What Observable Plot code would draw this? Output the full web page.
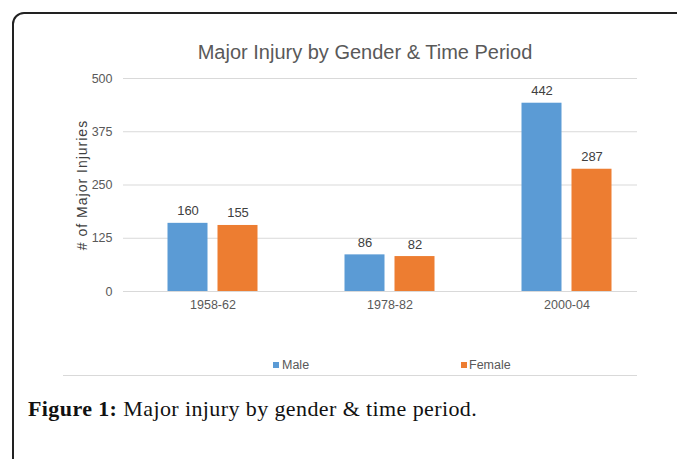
<!DOCTYPE html>
<html>
<head>
<meta charset="utf-8">
<script src="https://cdn.jsdelivr.net/npm/d3@7"></script>
<script src="https://cdn.jsdelivr.net/npm/@observablehq/plot@0.6"></script>
<style>
  html, body { margin: 0; padding: 0; background: #fff; }
  body { width: 677px; height: 459px; overflow: hidden; position: relative; font-family: "Liberation Sans", Arial, sans-serif; }
  #box { position: absolute; left: 12px; top: 12px; width: 720px; height: 520px; border: 2px solid #222; border-top-left-radius: 12px; box-sizing: border-box; }
  #title { position: absolute; left: 0; width: 730px; top: 42px; text-align: center; font-size: 20px; line-height: 20px; color: #595959; white-space: nowrap; }
  #chart { position: absolute; left: 0; top: 60px; }
  #legend { position: absolute; top: 358px; left: 0; font-size: 12.5px; line-height: 14px; color: #595959; }
  .sw { position: absolute; top: 4px; width: 6px; height: 6px; }
  .lt { position: absolute; top: 0; white-space: nowrap; }
  #sep { position: absolute; left: 63px; top: 375px; width: 574px; height: 1px; background: #d9d9d9; }
  #caption { position: absolute; left: 28px; top: 398px; font-family: "Liberation Serif", "Times New Roman", serif; font-size: 22px; line-height: 22px; color: #111; white-space: nowrap; letter-spacing: 0.4px; }
</style>
</head>
<body>
<div id="box"></div>
<div id="title">Major Injury by Gender &amp; Time Period</div>
<div id="chart"></div>
<div id="legend"></div>
<div id="sep"></div>
<div id="caption"><b>Figure 1:</b> Major injury by gender &amp; time period.</div>
<script>
const periods = ["1958-62", "1978-82", "2000-04"];
const genders = ["Male", "Female"];
const maleValues = [160, 86, 442];
const femaleValues = [155, 82, 287];
const yTicks = [0, 125, 250, 375, 500];
const colors = ["#5B9BD5", "#ED7D31"];
const yLabel = "# of Major Injuries";

const maleData = periods.map((p, i) => ({period: p, gender: "Male", value: maleValues[i]}));
const femaleData = periods.map((p, i) => ({period: p, gender: "Female", value: femaleValues[i]}));

const chart = Plot.plot({
  width: 677,
  height: 260,
  marginTop: 18,
  marginBottom: 29,
  marginLeft: 123,
  marginRight: 40,
  style: {fontFamily: "'Liberation Sans', Arial, sans-serif", color: "#595959", background: "transparent"},
  x: {type: "band", domain: periods, range: [123.5, 654.5], padding: 0},
  y: {domain: [0, 500]},
  marks: [
    Plot.ruleY(yTicks, {stroke: "#d9d9d9", strokeWidth: 1}),
    Plot.barY(maleData, {x: "period", y: "value", fill: colors[0], insetLeft: 43.5, insetRight: 93.5}),
    Plot.barY(femaleData, {x: "period", y: "value", fill: colors[1], insetLeft: 93.5, insetRight: 43.5}),
    Plot.text(maleData, {x: "period", y: "value", text: d => String(d.value), dx: -25, dy: -8, lineAnchor: "bottom", fill: "#404040", fontSize: 13}),
    Plot.text(femaleData, {x: "period", y: "value", text: d => String(d.value), dx: 25, dy: -8, lineAnchor: "bottom", fill: "#404040", fontSize: 13}),
    Plot.axisX({tickSize: 0, tickPadding: 9, label: null, fontSize: 12.5, fill: "#595959"}),
    Plot.axisY({ticks: yTicks, tickSize: 0, tickPadding: 11, label: null, fontSize: 12.5, fill: "#595959"}),
    Plot.text([yLabel], {text: d => d, frameAnchor: "left", textAnchor: "middle", rotate: -90, dx: -41, fontSize: 14, fill: "#404040"})
  ]
});
d3.select(chart).selectAll("text").filter(function() { return this.textContent === yLabel; }).attr("letter-spacing", "1px");
document.getElementById("chart").appendChild(chart);

const legend = document.getElementById("legend");
const legendPos = [[273, 282], [461, 469]];
genders.forEach((g, i) => {
  const sw = document.createElement("div");
  sw.className = "sw";
  sw.style.left = legendPos[i][0] + "px";
  sw.style.background = colors[i];
  legend.appendChild(sw);
  const t = document.createElement("div");
  t.className = "lt";
  t.style.left = legendPos[i][1] + "px";
  t.textContent = g;
  legend.appendChild(t);
});
</script>
</body>
</html>
